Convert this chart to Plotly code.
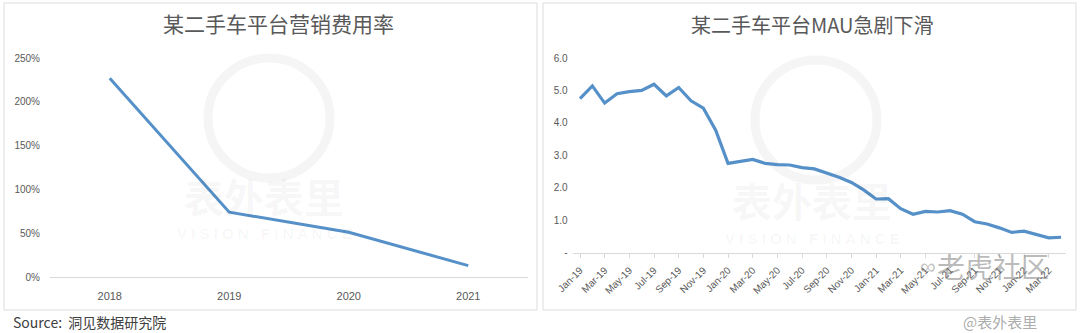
import plotly.graph_objects as go

# ---- data ----
years = ["2018", "2019", "2020", "2021"]
marketing_rate = [2.27, 0.74, 0.51, 0.13]

months = ["Jan-19", "Feb-19", "Mar-19", "Apr-19", "May-19", "Jun-19", "Jul-19", "Aug-19",
          "Sep-19", "Oct-19", "Nov-19", "Dec-19",
          "Jan-20", "Feb-20", "Mar-20", "Apr-20", "May-20", "Jun-20", "Jul-20", "Aug-20",
          "Sep-20", "Oct-20", "Nov-20", "Dec-20",
          "Jan-21", "Feb-21", "Mar-21", "Apr-21", "May-21", "Jun-21", "Jul-21", "Aug-21",
          "Sep-21", "Oct-21", "Nov-21", "Dec-21",
          "Jan-22", "Feb-22", "Mar-22", "Apr-22"]
mau = [4.75, 5.14, 4.61, 4.90, 4.96, 5.00, 5.19, 4.83, 5.09, 4.68, 4.45, 3.77,
       2.75, 2.82, 2.87, 2.75, 2.71, 2.70, 2.62, 2.58, 2.46, 2.32, 2.16, 1.93,
       1.65, 1.66, 1.35, 1.18, 1.27, 1.25, 1.29, 1.18, 0.95, 0.88, 0.76, 0.62,
       0.66, 0.56, 0.45, 0.47]
mau_ticks = [6, 5, 4, 3, 2, 1, 0]
mau_ticktext = ["6.0", "5.0", "4.0", "3.0", "2.0", "1.0", "-"]

left_title = "某二手车平台营销费用率"
right_title = "某二手车平台MAU急剧下滑"
source_text = "Source:  洞见数据研究院"

W, H = 1080, 333
def px(x):
    return x / W
def py(y):
    return 1 - y / H

LINE = "#5591c8"
AX = "#d9d9d9"
TXT = "#595959"
FONT = "Liberation Sans, Noto Sans CJK SC, sans-serif"
CJK = "Noto Sans CJK SC, sans-serif"

fig = go.Figure()
fig.add_trace(go.Scatter(x=years, y=marketing_rate, mode="lines",
                         line=dict(color=LINE, width=3), xaxis="x", yaxis="y",
                         showlegend=False, hoverinfo="skip"))
fig.add_trace(go.Scatter(x=months, y=mau, mode="lines",
                         line=dict(color=LINE, width=3.2), xaxis="x2", yaxis="y2",
                         showlegend=False, hoverinfo="skip"))

fig.update_layout(
    template="none",
    width=W, height=H,
    margin=dict(l=0, r=0, t=0, b=0, pad=0),
    paper_bgcolor="white", plot_bgcolor="rgba(0,0,0,0)",
    font=dict(family=FONT, color=TXT, size=10),
    xaxis=dict(domain=[px(50), px(528)], type="category", range=[-0.5, 3.5],
               showgrid=False, zeroline=False, showline=True, linecolor=AX, linewidth=1,
               ticks="", tickfont=dict(size=11, color=TXT), ticklabelstandoff=9,
               anchor="y", fixedrange=True, automargin=False),
    yaxis=dict(domain=[py(277), py(58)], range=[0, 2.5], tickvals=[0, 0.5, 1, 1.5, 2, 2.5],
               tickformat=".0%", showgrid=False, zeroline=False, showline=False,
               ticks="", tickfont=dict(size=10, color=TXT), ticklabelstandoff=9,
               anchor="x", fixedrange=True, automargin=False),
    xaxis2=dict(domain=[px(572.6), px(1066)], type="category", range=[-0.6, 39.4],
                tickmode="array", tickvals=months[::2], ticktext=months[::2],
                tickangle=-45, showgrid=False, zeroline=False, showline=True,
                linecolor=AX, linewidth=1, ticks="outside", ticklen=4, tickcolor=AX,
                tickwidth=1, tickfont=dict(size=10, color=TXT), ticklabelstandoff=3,
                anchor="y2", fixedrange=True, automargin=False),
    yaxis2=dict(domain=[py(252.5), py(58)], range=[0, 6], tickmode="array",
                tickvals=mau_ticks, ticktext=mau_ticktext, showgrid=False,
                zeroline=False, showline=False, ticks="", tickfont=dict(size=10, color=TXT),
                ticklabelstandoff=4, anchor="x2", fixedrange=True, automargin=False),
)

shapes = [
    dict(type="rect", xref="paper", yref="paper", x0=px(4), x1=px(537), y0=py(310), y1=py(3),
         line=dict(color="#dcdcdc", width=1), layer="below"),
    dict(type="rect", xref="paper", yref="paper", x0=px(543), x1=px(1076), y0=py(310), y1=py(3),
         line=dict(color="#dcdcdc", width=1), layer="below"),
    # faint watermark logo circles
    dict(type="circle", xref="paper", yref="paper", x0=px(208), x1=px(330), y0=py(178), y1=py(58),
         line=dict(color="#f5f5f5", width=9), layer="below"),
    dict(type="circle", xref="paper", yref="paper", x0=px(755), x1=px(877), y0=py(180), y1=py(60),
         line=dict(color="#f5f5f5", width=9), layer="below"),
]
fig.update_layout(shapes=shapes)

WM = "rgba(0,0,0,0.05)"
ann = [
    dict(text=left_title, x=px(278), y=py(23), font=dict(family=CJK, size=21, color=TXT)),
    dict(text=right_title, x=px(812), y=py(25), font=dict(family=CJK, size=20, color=TXT)),
    dict(text=source_text, x=px(11), y=py(322), xanchor="left",
         font=dict(family=CJK, size=14, color="#404040")),
    # watermarks
    dict(text="<b>表外表里</b>", x=px(264), y=py(196), font=dict(family=CJK, size=40, color=WM)),
    dict(text="<b>V I S I O N   F I N A N C E</b>", x=px(264), y=py(233),
         font=dict(family=FONT, size=15, color="rgba(0,0,0,0.04)")),
    dict(text="<b>表外表里</b>", x=px(812), y=py(200), font=dict(family=CJK, size=40, color=WM)),
    dict(text="<b>V I S I O N   F I N A N C E</b>", x=px(812), y=py(238),
         font=dict(family=FONT, size=15, color="rgba(0,0,0,0.04)")),
    dict(text="老虎社区", x=px(993), y=py(266), font=dict(family=CJK, size=28, color="rgba(120,120,120,0.5)")),
    dict(text="∞", x=px(928), y=py(266), font=dict(family=FONT, size=22, color="rgba(120,120,120,0.45)")),
    dict(text="@表外表里", x=px(1000), y=py(321), font=dict(family=CJK, size=15, color="rgba(150,150,150,0.8)")),
]
for a in ann:
    a.setdefault("xanchor", "center")
    a.update(xref="paper", yref="paper", yanchor="middle", showarrow=False)
fig.update_layout(annotations=ann)

fig.write_html("out.html")
